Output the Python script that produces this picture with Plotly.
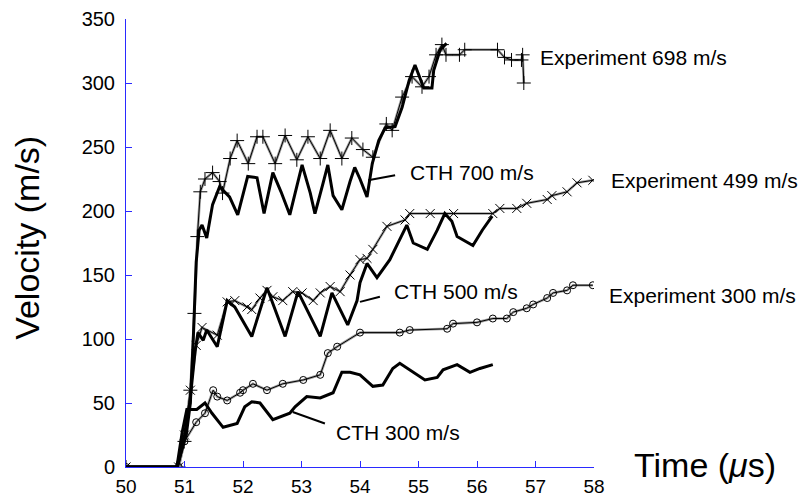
import plotly.graph_objects as go

# ---------------- data ----------------
cth700_t = [50.0, 50.87, 51.03, 51.10, 51.15, 51.20, 51.25, 51.30, 51.38, 51.48, 51.60, 51.77, 51.91,
            52.08, 52.24, 52.36, 52.51, 52.65, 52.80, 53.01, 53.15, 53.23, 53.37, 53.45, 53.54, 53.69,
            53.83, 53.91, 54.00, 54.12, 54.21, 54.32, 54.43, 54.60, 54.72, 54.84, 54.94, 55.09, 55.23,
            55.26, 55.37, 55.48]
cth700_v = [0, 0, 25, 50, 100, 160, 185, 189, 179, 205, 219, 211, 197,
            227, 226, 198, 230, 215, 197, 236, 214, 198, 222, 236, 212, 201,
            223, 234, 225, 211, 237, 255, 265, 266, 281, 302, 314, 296, 296,
            310, 326, 331]

exp698_t = [50.0, 50.9, 51.0, 51.1, 51.17, 51.22, 51.27, 51.35, 51.48, 51.60, 51.65, 51.78, 51.90,
            52.09, 52.24, 52.34, 52.55, 52.72, 52.92, 53.11, 53.32, 53.49, 53.69, 53.86, 54.05, 54.22,
            54.45, 54.55, 54.72, 54.89, 55.06, 55.18, 55.30, 55.40, 55.47, 55.70, 55.79, 56.35, 56.47,
            56.59, 56.76, 56.78, 56.80]
exp698_v = [0, 0, 20, 60, 120, 180, 215, 225, 230, 223, 214, 241, 255,
            237, 258, 258, 237, 259, 240, 258, 241, 263, 241, 257, 248, 242,
            268, 263, 289, 305, 297, 305, 322, 330, 322, 322, 326, 326, 320,
            318, 318, 322, 300]

cth500_t = [50.0, 50.87, 51.0, 51.09, 51.18, 51.23, 51.32, 51.38, 51.56, 51.73, 51.86, 52.15, 52.41,
            52.72, 52.94, 53.32, 53.52, 53.79, 53.95, 54.00, 54.12, 54.29, 54.51, 54.80, 54.91, 55.15,
            55.32, 55.45, 55.57, 55.66, 55.93, 56.09, 56.26]
cth500_v = [0, 0, 25, 50, 90, 105, 99, 107, 94, 130, 125, 102, 140,
            102, 137, 102, 136, 111, 130, 144, 159, 148, 162, 189, 175, 170,
            185, 198, 192, 180, 173, 185, 196]

exp499_t = [50.0, 50.9, 51.0, 51.1, 51.2, 51.30, 51.56, 51.73, 51.86, 52.07, 52.15, 52.29, 52.41,
            52.51, 52.68, 52.85, 53.01, 53.20, 53.32, 53.49, 53.66, 53.83, 54.00, 54.12, 54.22, 54.46,
            54.77, 54.85, 55.20, 55.60, 56.27, 56.39, 56.68, 56.85, 57.20, 57.28, 57.54, 57.71, 57.98]
exp499_v = [0, 0, 25, 60, 95, 109, 103, 129, 130, 125, 123, 132, 138,
            133, 130, 137, 136, 130, 136, 141, 137, 150, 162, 163, 170, 188,
            193, 198, 198, 198, 198, 202, 202, 206, 209, 212, 215, 222, 224]

cth300_t = [50.0, 50.87, 50.96, 51.04, 51.21, 51.35, 51.47, 51.66, 51.90, 52.03, 52.15, 52.29, 52.51,
            52.80, 52.89, 53.09, 53.32, 53.54, 53.69, 53.83, 54.00, 54.22, 54.39, 54.56, 54.68, 54.85,
            55.11, 55.32, 55.42, 55.66, 55.88, 56.05, 56.27]
cth300_v = [0, 0, 27, 45, 45, 50, 42, 31, 34, 47, 51, 50, 37,
            42, 47, 55, 54, 58, 74, 74, 72, 63, 64, 77, 81, 76,
            68, 70, 76, 80, 74, 77, 80]

exp300_t = [50.0, 50.9, 51.0, 51.2, 51.35, 51.49, 51.56, 51.73, 51.95, 52.00, 52.17, 52.41, 52.68,
            53.03, 53.32, 53.45, 53.61, 54.00, 54.68, 54.85, 55.49, 55.59, 56.00, 56.27, 56.51, 56.62,
            56.85, 56.96, 57.20, 57.30, 57.54, 57.64, 57.98]
exp300_v = [0, 0, 20, 35, 42, 60, 55, 52, 58, 60, 65, 60, 65,
            68, 72, 89, 94, 105, 105, 107, 108, 112, 113, 116, 116, 121,
            124, 127, 132, 136, 138, 142, 142]

x_ticks = [50, 51, 52, 53, 54, 55, 56, 57, 58]
y_ticks = [0, 50, 100, 150, 200, 250, 300, 350]

# labels placed in data coordinates (inside plot range)
labels = [
    ("Experiment 698 m/s", 57.04, 320),
    ("CTH 700 m/s", 54.82, 230),
    ("CTH 500 m/s", 54.55, 137),
    ("CTH 300 m/s", 53.56, 27),
]
# labels to the right of the plot (paper x, data y)
right_labels = [
    ("Experiment 499 m/s", 1.032, 224),
    ("Experiment 300 m/s", 1.028, 134),
]
leaders = [
    (54.14, 224, 54.60, 228),
    (54.00, 129, 54.34, 133),
    (52.85, 43, 53.40, 34),
]

FONT = "Liberation Sans, Arial, sans-serif"
AXIS_BLUE = "#2a2aff"
fig = go.Figure()

def exp_trace(t, v, sym, size):
    fig.add_trace(go.Scatter(x=t, y=v, mode="lines", line=dict(color="#a0a0a0", width=2.6),
                             showlegend=False, hoverinfo="skip"))
    fig.add_trace(go.Scatter(x=t, y=v, mode="lines+markers", line=dict(color="black", width=1),
                             marker=dict(symbol=sym, size=size, color="black",
                                         line=dict(color="black", width=1)),
                             showlegend=False))

exp_trace(exp698_t, exp698_v, "cross-thin", 10)
exp_trace(exp499_t, exp499_v, "x-thin", 9)
exp_trace(exp300_t, exp300_v, "circle-open", 7)

for t, v in [(cth700_t, cth700_v), (cth500_t, cth500_v), (cth300_t, cth300_v)]:
    fig.add_trace(go.Scatter(x=t, y=v, mode="lines", line=dict(color="black", width=3),
                             showlegend=False))

for txt, x, y in labels:
    fig.add_annotation(x=x, y=y, text=txt, showarrow=False, xanchor="left", yanchor="middle",
                       font=dict(family=FONT, size=21, color="black"))
for txt, x, y in right_labels:
    fig.add_annotation(xref="paper", x=x, y=y, text=txt, showarrow=False, xanchor="left",
                       yanchor="middle", font=dict(family=FONT, size=21, color="black"))

for x0, y0, x1, y1 in leaders:
    fig.add_shape(type="line", x0=x0, y0=y0, x1=x1, y1=y1, line=dict(color="black", width=2))

fig.add_annotation(xref="paper", yref="paper", x=1.081, y=0.004, text="Time (<i>μ</i>s)",
                   showarrow=False, xanchor="left", yanchor="middle",
                   font=dict(family=FONT, size=34, color="black"))
fig.add_annotation(xref="paper", yref="paper", x=-0.212, y=0.511, text="Velocity (m/s)",
                   textangle=-90, showarrow=False, xanchor="center", yanchor="middle",
                   font=dict(family=FONT, size=34, color="black"))

fig.update_layout(
    width=802, height=499,
    margin=dict(l=126, r=208, t=19, b=32),
    paper_bgcolor="white", plot_bgcolor="white",
    font=dict(family=FONT, size=20, color="black"),
    xaxis=dict(range=[50, 58], tickvals=x_ticks, showgrid=False, zeroline=False,
               showline=True, linecolor=AXIS_BLUE, linewidth=1, automargin=False,
               ticks="inside", ticklen=6, tickcolor=AXIS_BLUE, ticklabelstandoff=2,
               tickfont=dict(family=FONT, size=19, color="black")),
    yaxis=dict(range=[0, 350], tickvals=y_ticks, showgrid=False, zeroline=False,
               showline=True, linecolor=AXIS_BLUE, linewidth=1, automargin=False,
               ticks="inside", ticklen=6, tickcolor=AXIS_BLUE, ticklabelstandoff=6,
               tickfont=dict(family=FONT, size=20, color="black")),
)

fig.write_html("out.html")
